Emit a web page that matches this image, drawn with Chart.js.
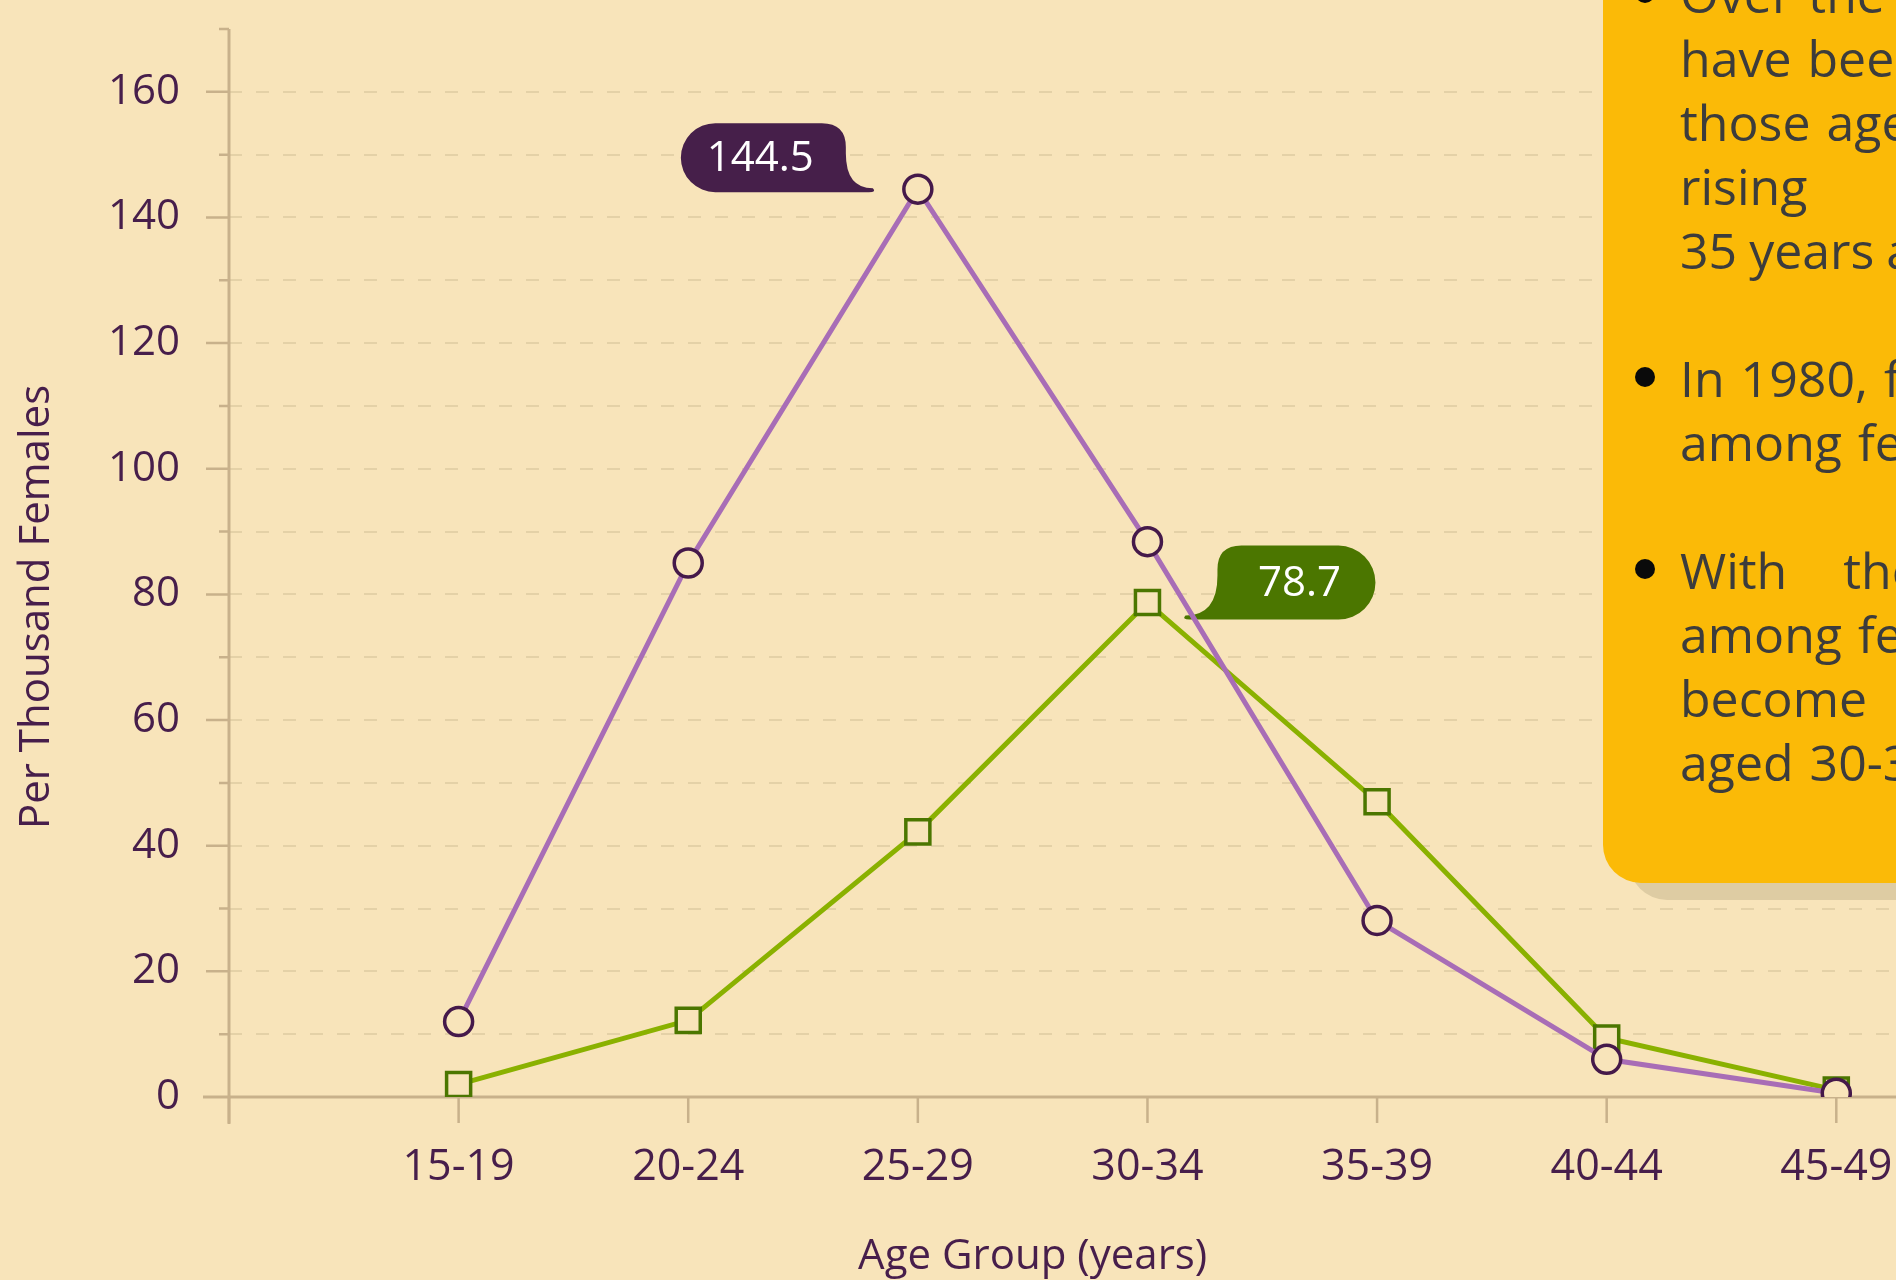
<!DOCTYPE html>
<html>
<head>
<meta charset="utf-8">
<script src="https://cdn.jsdelivr.net/npm/chart.js@4.4.0/dist/chart.umd.min.js"></script>
<style>
  html, body { margin: 0; padding: 0; width: 1896px; height: 1280px; overflow: hidden; background: #F8E4BA; }
  #wrap { position: relative; width: 1896px; height: 1280px; overflow: hidden; }
  #chart { position: absolute; left: 0; top: 0; }
  .note {
    position: absolute; left: 1603px; top: -100px; width: 700px; height: 983px;
    background: #FBBA07; border-radius: 0 0 0 38px; box-shadow: 26px 17px 0 #DECCA3;
    font-family: 'Open Sans', sans-serif; font-size: 50px; color: #3C3C3C;
  }
  .note .txt { position: absolute; left: 77px; top: 62px; }
  .line { position: relative; height: 64px; line-height: 64px; white-space: nowrap; word-spacing: 3px; }
  .dot { position: absolute; left: -45px; top: 21px; width: 20px; height: 20px; border-radius: 50%; background: #0a0a0a; }
</style>
</head>
<body>
<div id="wrap">
  <canvas id="chart" width="1896" height="1280"></canvas>
  <div class="note">
    <div class="txt">
      <div class="line"><span class="dot"></span>Over the years, fertility rates</div>
      <div class="line">have been declining among</div>
      <div class="line">those aged below 30 years, while</div>
      <div class="line" style="word-spacing:80px">rising among females</div>
      <div class="line" style="word-spacing:-1px">35 years and above.</div>
      <div class="line"></div>
      <div class="line"><span class="dot"></span>In 1980, fertility was highest</div>
      <div class="line">among females aged 25-29.</div>
      <div class="line"></div>
      <div class="line" style="word-spacing:43px"><span class="dot"></span>With the shift, fertility</div>
      <div class="line">among females aged 30-34 has</div>
      <div class="line" style="word-spacing:95px">become the highest</div>
      <div class="line">aged 30-34 years.</div>
    </div>
  </div>
</div>
<script>
// data
const categories = ['15-19', '20-24', '25-29', '30-34', '35-39', '40-44', '45-49'];
const rates1980 = [12.0, 85.0, 144.5, 88.4, 28.1, 6.0, 0.6];
const ratesLater = [2.0, 12.2, 42.2, 78.7, 47.0, 9.4, 1.1];
const yMax = 170;
const yStep = 10;

const textColor = '#471E4B';
const axisColor = '#C8B18B';
const bg = '#F8E4BA';

Chart.defaults.font.family = "'Open Sans', sans-serif";
Chart.defaults.color = textColor;

function toPoints(values) {
    return values.map((v, i) => ({ x: i + 1, y: v }));
}

// axis lines and tick marks
const axesPlugin = {
    id: 'axes',
    beforeDatasetsDraw(chart) {
        const ctx = chart.ctx;
        const xs = chart.scales.x;
        const ys = chart.scales.y;
        const x0 = xs.getPixelForValue(0);
        const y0 = ys.getPixelForValue(0);
        ctx.save();
        ctx.strokeStyle = axisColor;
        ctx.lineWidth = 3;
        ctx.beginPath();
        ctx.moveTo(x0, ys.getPixelForValue(yMax));
        ctx.lineTo(x0, y0 + 27);
        ctx.moveTo(x0 - 26, y0);
        ctx.lineTo(chart.width, y0);
        ctx.stroke();
        ctx.lineWidth = 2.5;
        ctx.beginPath();
        for (let v = yStep; v <= yMax; v += yStep) {
            const y = ys.getPixelForValue(v);
            const len = v % 20 === 0 ? 23 : 10;
            ctx.moveTo(x0 - len, y);
            ctx.lineTo(x0, y);
        }
        for (let i = 0; i <= categories.length; i++) {
            const x = xs.getPixelForValue(i);
            ctx.moveTo(x, y0);
            ctx.lineTo(x, y0 + 26);
        }
        ctx.stroke();
        ctx.restore();
    },
    afterDraw(chart) {
        const ctx = chart.ctx;
        const xs = chart.scales.x;
        const ys = chart.scales.y;
        ctx.save();
        ctx.fillStyle = textColor;
        ctx.font = "42px 'Open Sans'";
        ctx.textAlign = 'center';
        ctx.textBaseline = 'middle';
        ctx.fillText('Age Group (years)', xs.getPixelForValue(3.5), 1257);
        ctx.translate(37, ys.getPixelForValue(78));
        ctx.rotate(-Math.PI / 2);
        ctx.fillText('Per Thousand Females', 0, 0);
        ctx.restore();
    }
};

// value callouts
const callouts = [
    { dataset: 0, index: 2, color: '#461F4A', L: -237, R: -72, T: -66, B: 3, tx: -45, ty: 0 },
    { dataset: 1, index: 3, color: '#4B7600', L: 70, R: 228, T: -57, B: 17, tx: 38, ty: 14 }
];

function drawBubble(ctx, px, py, c, text) {
    const cx = px + (c.L + c.R) / 2;
    const cy = py + (c.T + c.B) / 2;
    const hw = (c.R - c.L) / 2;
    const hh = (c.B - c.T) / 2;
    const dir = c.tx > 0 && c.L > 0 ? -1 : 1;
    const tipX = (px + c.tx - cx) * dir;
    const tipY = py + c.ty - cy;
    ctx.save();
    ctx.translate(cx, cy);
    ctx.scale(dir, 1);
    ctx.fillStyle = c.color;
    ctx.beginPath();
    ctx.moveTo(-hw + hh, -hh);
    ctx.lineTo(hw - 24, -hh);
    ctx.quadraticCurveTo(hw, -hh, hw, -hh + 24);
    ctx.lineTo(hw, -hh + 30);
    ctx.quadraticCurveTo(hw, tipY - 1, tipX, tipY - 1);
    ctx.quadraticCurveTo(tipX + 4, hh, tipX - 4, hh);
    ctx.lineTo(-hw + hh, hh);
    ctx.arc(-hw + hh, 0, hh, Math.PI / 2, Math.PI * 1.5);
    ctx.closePath();
    ctx.fill();
    ctx.restore();
    ctx.save();
    ctx.fillStyle = '#ffffff';
    ctx.font = "42px 'Open Sans'";
    ctx.textAlign = 'center';
    ctx.textBaseline = 'middle';
    ctx.fillText(text, cx - 3 * dir, cy + 1);
    ctx.restore();
}

const calloutPlugin = {
    id: 'callouts',
    beforeDatasetsDraw(chart) {
        callouts.forEach(c => {
            const pt = chart.getDatasetMeta(c.dataset).data[c.index];
            const v = chart.data.datasets[c.dataset].data[c.index].y;
            drawBubble(chart.ctx, pt.x, pt.y, c, String(v));
        });
    }
};

new Chart(document.getElementById('chart'), {
    type: 'line',
    data: {
        datasets: [{
            label: '1980',
            data: toPoints(rates1980),
            borderColor: '#A86DB6',
            borderWidth: 5,
            pointStyle: 'circle',
            pointRadius: 14,
            pointBorderWidth: 3.5,
            pointBorderColor: '#45194A',
            pointBackgroundColor: bg,
            tension: 0
        }, {
            label: 'Later',
            data: toPoints(ratesLater),
            borderColor: '#8AB100',
            borderWidth: 5,
            pointStyle: 'rect',
            pointRadius: 17,
            pointBorderWidth: 3.5,
            pointBorderColor: '#4B7600',
            pointBackgroundColor: bg,
            tension: 0
        }]
    },
    options: {
        responsive: false,
        devicePixelRatio: 1,
        animation: false,
        layout: { autoPadding: false, padding: { top: 29, left: 0, right: 0, bottom: 0 } },
        plugins: { legend: { display: false }, tooltip: { enabled: false } },
        scales: {
            x: {
                type: 'linear',
                min: 0,
                max: 7.26,
                grid: { display: false, drawTicks: false },
                border: { display: false },
                ticks: {
                    stepSize: 1,
                    includeBounds: false,
                    autoSkip: false,
                    maxRotation: 0,
                    padding: 45,
                    font: { size: 43 },
                    color: textColor,
                    callback: v => categories[v - 1] || ''
                },
                afterFit: s => { s.height = 183; s.paddingLeft = 0; s.paddingRight = 0; }
            },
            y: {
                min: 0,
                max: yMax,
                grid: {
                    drawTicks: false,
                    lineWidth: 2,
                    color: c => (c.tick && (c.tick.value === 0 || c.tick.value === yMax)) ? 'rgba(0,0,0,0)' : '#E4D1A7'
                },
                border: { display: false, dash: [13, 14] },
                ticks: {
                    stepSize: yStep,
                    padding: 49,
                    font: { size: 42 },
                    color: textColor,
                    callback: v => v % 20 === 0 ? v : ''
                },
                afterFit: s => { s.width = 229; s.paddingTop = 0; s.paddingBottom = 0; }
            }
        }
    },
    plugins: [axesPlugin, calloutPlugin]
});
</script>
</body>
</html>
